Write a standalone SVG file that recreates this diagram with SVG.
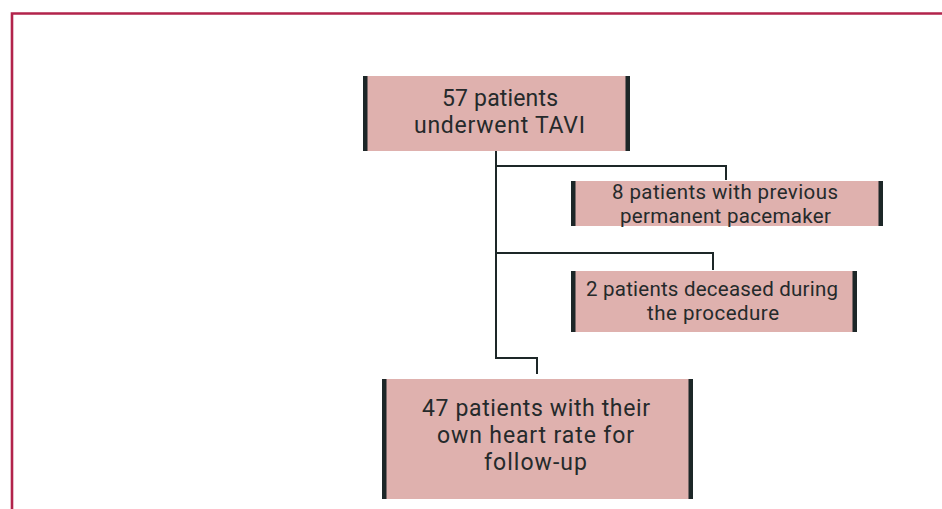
<svg xmlns="http://www.w3.org/2000/svg" width="942" height="509" viewBox="0 0 942 509">
<style>
.box{fill:#dfb1ae}
.bar{fill:#1d2728}
.t{font-family:Roboto,"Open Sans",sans-serif;fill:#252a2b;text-anchor:middle}
.c{fill:none;stroke:#1d2728;stroke-width:2}
</style>
<rect width="942" height="509" fill="#fff"/>
<path d="M12 509V13.5H942" fill="none" stroke="#b2234b" stroke-width="2.6"/>
<g id="connectors">
<path class="c" d="M496 151V358H537V374"/>
<path class="c" d="M496 166H726V180"/>
<path class="c" d="M496 253H713V270"/>
</g>
<g id="n1">
<rect class="box" x="364" y="76" width="265" height="75"/>
<rect class="bar" x="363" y="76" width="4.5" height="75"/>
<rect class="bar" x="625.5" y="76" width="4.5" height="75"/>
<text class="t" font-size="23"><tspan x="500" y="106" textLength="116">57 patients</tspan><tspan x="499.5" y="133" textLength="171">underwent TAVI</tspan></text>
</g>
<g id="n2">
<rect class="box" x="572" y="181" width="310" height="45"/>
<rect class="bar" x="571" y="181" width="4.5" height="45"/>
<rect class="bar" x="878.5" y="181" width="4.5" height="45"/>
<text class="t" font-size="20.5"><tspan x="725" y="199" textLength="226">8 patients with previous</tspan><tspan x="725.5" y="223" textLength="211">permanent pacemaker</tspan></text>
</g>
<g id="n3">
<rect class="box" x="572" y="271" width="284" height="61"/>
<rect class="bar" x="571" y="271" width="4.5" height="61"/>
<rect class="bar" x="852.5" y="271" width="4.5" height="61"/>
<text class="t" font-size="20.5"><tspan x="712" y="296" textLength="252">2 patients deceased during</tspan><tspan x="713" y="320" textLength="132">the procedure</tspan></text>
</g>
<g id="n4">
<rect class="box" x="383" y="379" width="309" height="120"/>
<rect class="bar" x="382" y="379" width="4.5" height="120"/>
<rect class="bar" x="688.5" y="379" width="4.5" height="120"/>
<text class="t" font-size="23"><tspan x="536" y="416" textLength="228">47 patients with their</tspan><tspan x="535.5" y="443" textLength="197">own heart rate for</tspan><tspan x="535.5" y="470" textLength="103">follow-up</tspan></text>
</g>
</svg>
